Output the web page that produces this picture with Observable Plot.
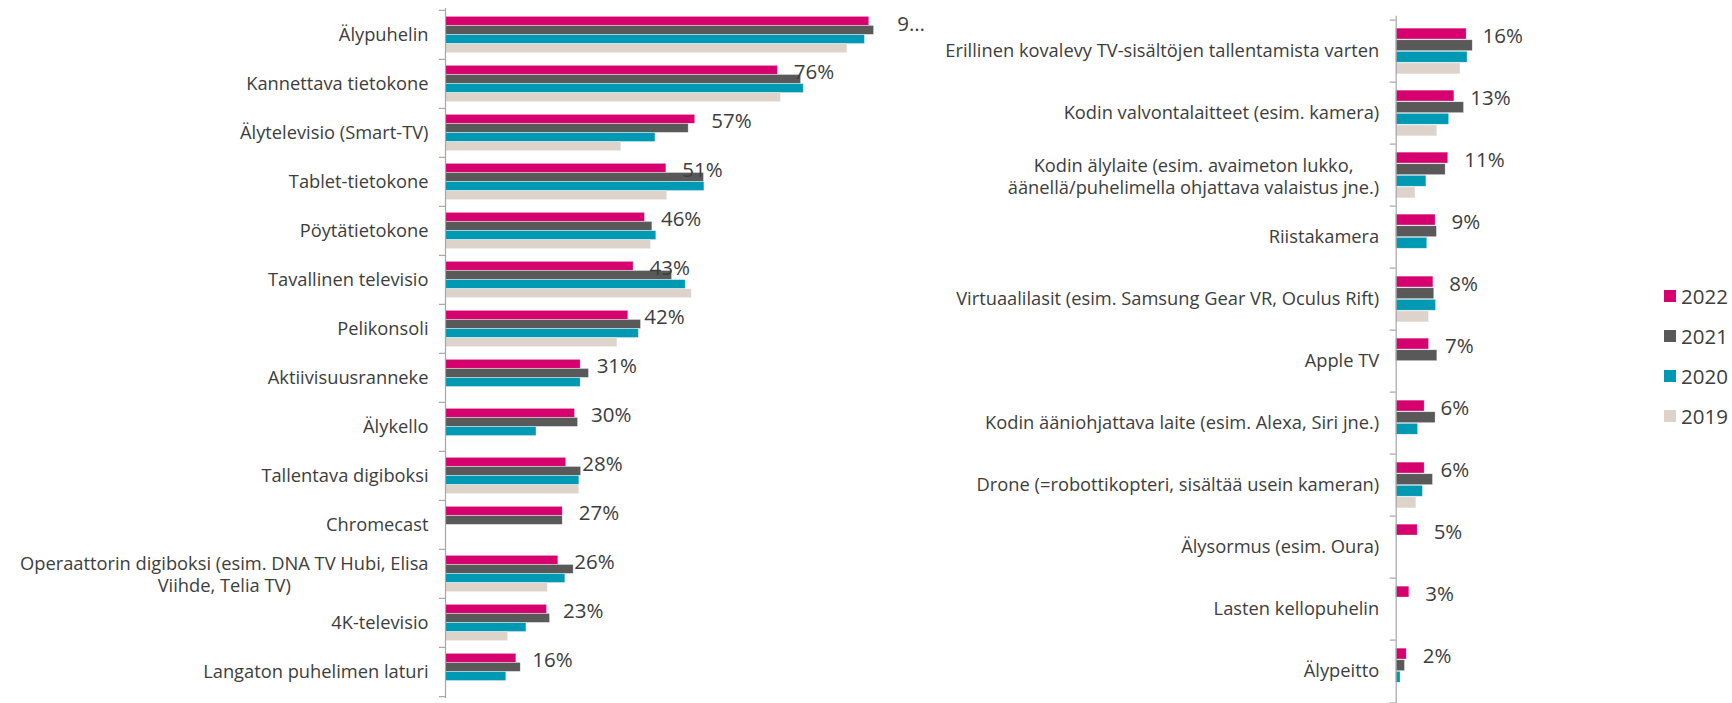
<!DOCTYPE html>
<html>
<head>
<meta charset="utf-8">
<script src="https://cdn.jsdelivr.net/npm/d3@7"></script>
<script src="https://cdn.jsdelivr.net/npm/@observablehq/plot@0.6"></script>
<style>
  html, body { margin: 0; padding: 0; background: #fff; }
  #wrap { position: relative; width: 1732px; height: 703px; overflow: hidden; font-family: "Open Sans", sans-serif; }
  #left { position: absolute; left: 0; top: 0; }
  #right { position: absolute; left: 930px; top: 0; }
  #legend { position: absolute; left: 1664px; top: 290px; }
  .lg-row { position: relative; height: 40px; }
  .lg-sw { position: absolute; left: 0; top: 0; width: 12px; height: 12px; }
  .lg-tx { position: absolute; left: 17px; top: -7px; font-size: 20.5px; line-height: 26px; color: #3d3d3d; font-family: "Open Sans", sans-serif; white-space: nowrap; }
</style>
</head>
<body>
<div id="wrap">
  <div id="left"></div>
  <div id="right"></div>
  <div id="legend"></div>
</div>
<script>
const yearKeys = ["2022", "2021", "2020", "2019"];
const yearColors = ["#d6006f", "#595959", "#0099b3", "#ddd3ca"];

const leftCategories = [
  "Älypuhelin",
  "Kannettava tietokone",
  "Älytelevisio (Smart-TV)",
  "Tablet-tietokone",
  "Pöytätietokone",
  "Tavallinen televisio",
  "Pelikonsoli",
  "Aktiivisuusranneke",
  "Älykello",
  "Tallentava digiboksi",
  "Chromecast",
  "Operaattorin digiboksi (esim. DNA TV Hubi, Elisa\nViihde, Telia TV)",
  "4K-televisio",
  "Langaton puhelimen laturi"
];
const left2022 = [96.9, 76.0, 57.1, 50.5, 45.6, 43.0, 41.8, 30.9, 29.6, 27.6, 26.8, 25.8, 23.2, 16.2];
const left2021 = [98.0, 81.3, 55.6, 59.1, 47.3, 51.8, 44.7, 32.8, 30.3, 31.0, 26.8, 29.3, 23.9, 17.2];
const left2020 = [95.9, 81.9, 48.0, 59.2, 48.2, 54.9, 44.2, 30.9, 20.8, 30.6, null, 27.4, 18.5, 13.9];
const left2019 = [91.9, 76.7, 40.2, 50.7, 47.0, 56.3, 39.3, null, null, 30.6, null, 23.4, 14.3, null];
const leftLabels = ["9…", "76%", "57%", "51%", "46%", "43%", "42%", "31%", "30%", "28%", "27%", "26%", "23%", "16%"];

const rightCategories = [
  "Erillinen kovalevy TV-sisältöjen tallentamista varten",
  "Kodin valvontalaitteet (esim. kamera)",
  "Kodin älylaite (esim. avaimeton lukko,\näänellä/puhelimella ohjattava valaistus jne.)",
  "Riistakamera",
  "Virtuaalilasit (esim. Samsung Gear VR, Oculus Rift)",
  "Apple TV",
  "Kodin ääniohjattava laite (esim. Alexa, Siri jne.)",
  "Drone (=robottikopteri, sisältää usein kameran)",
  "Älysormus (esim. Oura)",
  "Lasten kellopuhelin",
  "Älypeitto"
];
const right2022 = [16.1, 13.3, 11.9, 9.0, 8.5, 7.5, 6.5, 6.5, 4.9, 3.0, 2.4];
const right2021 = [17.5, 15.5, 11.3, 9.3, 8.7, 9.4, 9.0, 8.4, null, null, 2.0];
const right2020 = [16.3, 12.1, 6.9, 7.1, 9.1, null, 5.0, 6.1, null, null, 1.0];
const right2019 = [14.7, 9.4, 4.4, null, 7.5, null, null, 4.6, null, null, null];
const rightLabels = ["16%", "13%", "11%", "9%", "8%", "7%", "6%", "6%", "5%", "3%", "2%"];

const textColor = "#3d3d3d";
const catFont = 18.3;
const valFont = 20.5;
const fontFamily = "'Open Sans', sans-serif";

const canvas = document.createElement("canvas");
const ctx = canvas.getContext("2d");
function textWidth(s, size) {
  ctx.font = `${size}px 'Open Sans'`;
  return ctx.measureText(s).width;
}

function panel({categories, series, labels, width, height, xRange, yRange}) {
  const n = categories.length;
  const bw = (yRange[1] - yRange[0]) / n;
  const group = bw * 0.74, bh = group / 4, pad = (bw - group) / 2;
  const k = (xRange[1] - xRange[0]) / 100;
  const tickPad = 17;

  const rows = categories.flatMap((c, i) =>
    yearKeys.map((y, j) => ({category: c, year: y, value: series[j][i]}))
  ).filter(d => d.value != null);

  const bars = yearKeys.map((y, j) =>
    Plot.barX(rows.filter(d => d.year === y), {
      x: "value", y: "category", fill: "year",
      insetTop: pad + j * bh,
      insetBottom: bw - pad - (j + 1) * bh,
      stroke: "#fff", strokeOpacity: 0.45, strokeWidth: 0.6
    })
  );

  const labelRows = categories.map((c, i) => ({category: c, value: series[0][i], label: labels[i]}));
  const dyLabel = -bw / 2 + pad + bh / 2 + 2;

  const single = categories.filter(c => !c.includes("\n"));
  const multi = categories.filter(c => c.includes("\n"));
  const multiMarks = multi.map(c => {
    const w = d3.max(c.split("\n"), s => textWidth(s, catFont));
    return Plot.text([{category: c}], {
      x: () => 0, y: "category", text: "category",
      textAnchor: "middle", dx: -(tickPad + w / 2), lineHeight: 1.2,
      fontSize: catFont, fill: textColor
    });
  });

  const axisY1 = yRange[0];
  const axisY2 = Math.min(height, yRange[1]);

  return Plot.plot({
    width, height,
    marginTop: axisY1, marginBottom: height - axisY2,
    marginLeft: xRange[0], marginRight: Math.max(0, width - xRange[1]),
    style: {fontFamily, fontSize: `${catFont}px`, color: textColor, background: "transparent", overflow: "visible"},
    x: {domain: [0, 100], range: xRange, axis: null},
    y: {
      domain: categories, range: yRange, padding: 0, label: null,
      ticks: single, tickSize: 0, tickPadding: tickPad
    },
    color: {domain: yearKeys, range: yearColors},
    marks: [
      ...bars,
      Plot.ruleX([0], {stroke: "#a6a6a6", strokeWidth: 1.2}),
      Plot.ruleY(categories, {y: d => d, x1: -6 / k, x2: 0, dy: -bw / 2, stroke: "#a6a6a6", strokeWidth: 1.2}),
      Plot.ruleY(categories.slice(-1), {y: d => d, x1: -6 / k, x2: 0, dy: bw / 2, stroke: "#a6a6a6", strokeWidth: 1.2}),
      Plot.text(labelRows.filter(d => !d.label.endsWith("…")), {
        x: "value", y: "category", text: "label", textAnchor: "start",
        dx: 16, dy: dyLabel, fontSize: valFont, fill: textColor
      }),
      Plot.text(labelRows.filter(d => d.label.endsWith("…")), {
        x: "value", y: "category", text: "label", textAnchor: "start",
        dx: 28, dy: dyLabel + 1, fontSize: valFont, fill: textColor
      }),
      ...multiMarks
    ]
  });
}

const leftChart = panel({
  categories: leftCategories,
  series: [left2022, left2021, left2020, left2019],
  labels: leftLabels,
  width: 930, height: 703,
  xRange: [445, 882.3],
  yRange: [8, 698]
});
document.getElementById("left").appendChild(leftChart);

const rightChart = panel({
  categories: rightCategories,
  series: [right2022, right2021, right2020, right2019],
  labels: rightLabels,
  width: 802, height: 703,
  xRange: [465.7, 903],
  yRange: [15.7, 706.5]
});
document.getElementById("right").appendChild(rightChart);

const colorScale = leftChart.scale("color");
const legend = d3.select("#legend");
yearKeys.forEach((y, j) => {
  const row = legend.append("div").attr("class", "lg-row");
  row.append("div").attr("class", "lg-sw").style("background", colorScale.apply(y));
  row.append("div").attr("class", "lg-tx").text(y);
});
</script>
</body>
</html>
